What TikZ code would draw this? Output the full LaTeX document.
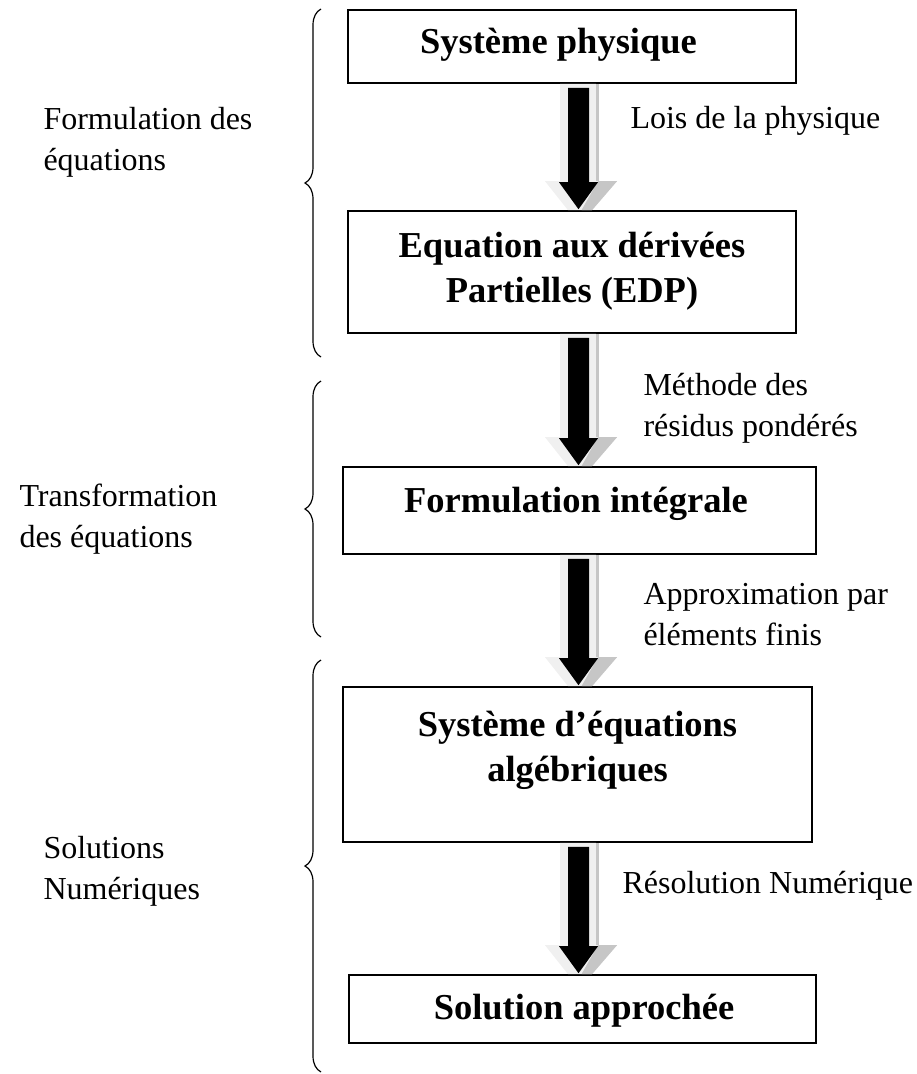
\documentclass[tikz,border=0pt]{standalone}
\usepackage{fontspec}
\setmainfont{Liberation Serif}
\usetikzlibrary{calc,decorations.pathreplacing}

\newcommand{\fleche}[2]{%
  \coordinate (s) at (#1.south -| ax);
  \coordinate (e) at (#2.north -| ax);
  \fill[gray!12] ($(s)+(-18.5,0)$) -- ($(s)+(17.5,0)$) -- ($(e)+(17.5,-29)$) -- ($(e)+(38.5,-29)$)
    -- ($(e)+(13.5,0)$) -- ($(e)+(-10.5,0)$) -- ($(e)+(-33.5,-29)$) -- ($(e)+(-18.5,-29)$) -- cycle;
  \fill[gray!45] ($(s)+(17.5,0)$) rectangle ($(e)+(20.5,-29)$);
  \fill[gray!45] ($(e)+(19.5,-29)$) -- ($(e)+(38.5,-29)$) -- ($(e)+(13.5,0)$) -- ($(e)+(3,0)$) -- cycle;
  \fill[black] ($(s)+(-10.5,4)$) -- ($(s)+(10.5,4)$) -- ($(e)+(10.5,-28)$) -- ($(e)+(19.5,-28)$)
    -- ($(e)+(0,-1)$) -- ($(e)+(-19.5,-28)$) -- ($(e)+(-10.5,-28)$) -- cycle;
}

\begin{document}
\begin{tikzpicture}[x=1pt,y=-1pt,
    boite/.style={draw, line width=1.6pt, inner sep=0pt},
    titre/.style={anchor=base, align=center, font=\fontsize{36.5}{45}\selectfont\bfseries},
    etiquette/.style={anchor=base west, align=left, font=\fontsize{32}{41}\selectfont},
    accolade/.style={decorate, decoration={brace, amplitude=16pt}, line width=1.2pt}]
      \useasboundingbox (0,0) rectangle (917,1074);
      \coordinate (ax) at (578.5,0);

      \node[boite, minimum width=448pt, minimum height=73pt] (b1) at (572,46.5) {};
      \node[boite, minimum width=448pt, minimum height=122pt] (b2) at (572,272) {};
      \node[boite, minimum width=473pt, minimum height=87pt] (b3) at (579.5,510.5) {};
      \node[boite, minimum width=469pt, minimum height=155pt] (b4) at (577.5,764.5) {};
      \node[boite, minimum width=467pt, minimum height=68pt] (b5) at (582.5,1009) {};

      \node[titre] (t1) at (558.5,53) {Système physique};
      \node[titre] (t2) at (572,302) {Equation aux dérivées\\Partielles (EDP)};
      \node[titre] (t3) at (576,512) {Formulation intégrale};
      \node[titre] (t4) at (577.5,781) {Système d’équations\\algébriques};
      \node[titre] (t5) at (584,1019) {Solution approchée};

      \fleche{b1}{b2}
      \fleche{b2}{b3}
      \fleche{b3}{b4}
      \fleche{b4}{b5}

      \node[etiquette] (r1) at (627,128) {Lois de la physique};
      \node[etiquette] (r2) at (640,436) {Méthode des\\résidus pondérés};
      \node[etiquette] (r3) at (640,645) {Approximation par\\éléments finis};
      \node[etiquette] (r4) at (619,893) {Résolution Numérique};

      \draw[accolade] (321,357) -- (321,9);
      \draw[accolade] (321,637) -- (321,381);
      \draw[accolade] (321,1072) -- (321,660);

      \node[etiquette] (l1) at (40,170) {Formulation des\\équations};
      \node[etiquette] (l2) at (16,547) {Transformation\\des équations};
      \node[etiquette] (l3) at (40,899) {Solutions\\Numériques};
\end{tikzpicture}
\end{document}
